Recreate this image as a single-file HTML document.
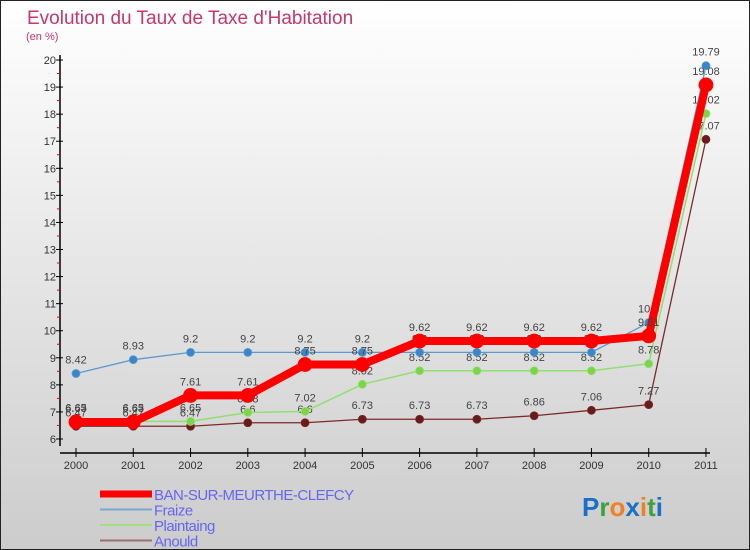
<!DOCTYPE html>
<html><head><meta charset="utf-8"><style>
html,body{margin:0;padding:0}
body{width:750px;height:550px;overflow:hidden;font-family:"Liberation Sans",sans-serif}
#wrap{position:absolute;left:0;top:0;width:748px;height:548px;border:1px solid #222;background:linear-gradient(#fff,#ccc)}
</style></head><body>
<div id="wrap">
<svg id="c" width="750" height="550" style="position:absolute;left:-1px;top:-1px">
<text x="27" y="24" font-size="19" fill="#c8366a">Evolution du Taux de Taxe d'Habitation</text>
<text x="26" y="40" font-size="11" fill="#c8366a">(en %)</text>
</svg>
</div>
<script>
const years=["2000","2001","2002","2003","2004","2005","2006","2007","2008","2009","2010","2011"];
const ban=[6.63,6.63,7.61,7.61,8.75,8.75,9.62,9.62,9.62,9.62,9.81,19.08];
const fraize=[8.42,8.93,9.2,9.2,9.2,9.2,9.2,9.2,9.2,9.2,10.3,19.79];
const plain=[6.65,6.65,6.65,6.98,7.02,8.02,8.52,8.52,8.52,8.52,8.78,18.02];
const anould=[6.47,6.47,6.47,6.6,6.6,6.73,6.73,6.73,6.86,7.06,7.27,17.07];
const yTicks=[6,7,8,9,10,11,12,13,14,15,16,17,18,19,20];
const NS="http://www.w3.org/2000/svg";
const svg=document.getElementById('c');
const X=i=>76+i*57.27, Y=v=>439-(v-6)*27.07;
function mk(t,a,p){const e=document.createElementNS(NS,t);for(const k in a)e.setAttribute(k,a[k]);(p||svg).appendChild(e);return e;}
// axes
let ax=mk('line',{x1:60,y1:55,x2:60,y2:446,stroke:'#000','stroke-width':1.5});


let xa=mk('line',{x1:60,y1:453,x2:710,y2:453,stroke:'#000','stroke-width':1.5});


yTicks.forEach(v=>{
 mk('line',{x1:56,y1:Y(v),x2:63,y2:Y(v),stroke:'#000'});
 if(v<20){mk('line',{x1:57,y1:Y(v+0.5),x2:60,y2:Y(v+0.5),stroke:'#e00'});}
 const t=mk('text',{x:56,y:Y(v)+4,'font-size':11,fill:'#333','text-anchor':'end'});t.textContent=v;
 
 
});
years.forEach((y,i)=>{
 mk('line',{x1:X(i),y1:448,x2:X(i),y2:457,stroke:'#000'});
 const t=mk('text',{x:X(i),y:469,'font-size':11,fill:'#333','text-anchor':'middle'});t.textContent=y;
 
 
});
function series(d,col,w,r,name,dot){
 const g=mk('g',{});
 
 
 mk('polyline',{points:d.map((v,i)=>X(i)+','+Y(v)).join(' '),fill:'none',stroke:col,'stroke-width':w,'stroke-linejoin':'round'},g);
 d.forEach((v,i)=>{
  const c=mk('circle',{cx:X(i),cy:Y(v),r:r,fill:dot,stroke:col,'stroke-width':0.8},g);
  
  
  const t=mk('text',{x:X(i),y:Y(v)-10,'font-size':11,fill:'#444','text-anchor':'middle'},g);t.textContent=v;
  
  
 });
}
series(anould,'#7a2a2a',1.3,4,'series-anould','#6a1a1a');
series(plain,'#90e070',1.5,4,'series-plaintaing','#7cd44a');
series(fraize,'#5a9ad0',1.3,4,'series-fraize','#3a86c8');
series(ban,'#f00',8,7,'series-ban','#f00');
// legend
const leg=[['BAN-SUR-MEURTHE-CLEFCY','#f00',7],['Fraize','#7aa8d0',2],['Plaintaing','#a0e080',2],['Anould','#9a7070',2]];
leg.forEach((l,i)=>{
 const yy=494+i*15.5;
 const ln=mk('line',{x1:100,y1:yy,x2:152,y2:yy,stroke:l[1],'stroke-width':l[2]});
 
 
 const t=mk('text',{x:154,y:yy+6,'font-size':15,fill:'#6666ee','letter-spacing':'-0.5'});t.textContent=l[0];
 
 
});
const lg=mk('text',{x:582,y:516,'font-size':26,'font-weight':'bold'});


[['P','#1a6fc8'],['r','#40a040'],['o','#f08020'],['x','#1a6fc8'],['i','#f08020'],['t','#40a040'],['i','#1a6fc8']].forEach(p=>{const s=mk('tspan',{fill:p[1]},lg);s.textContent=p[0];});
</script>
</body></html>
